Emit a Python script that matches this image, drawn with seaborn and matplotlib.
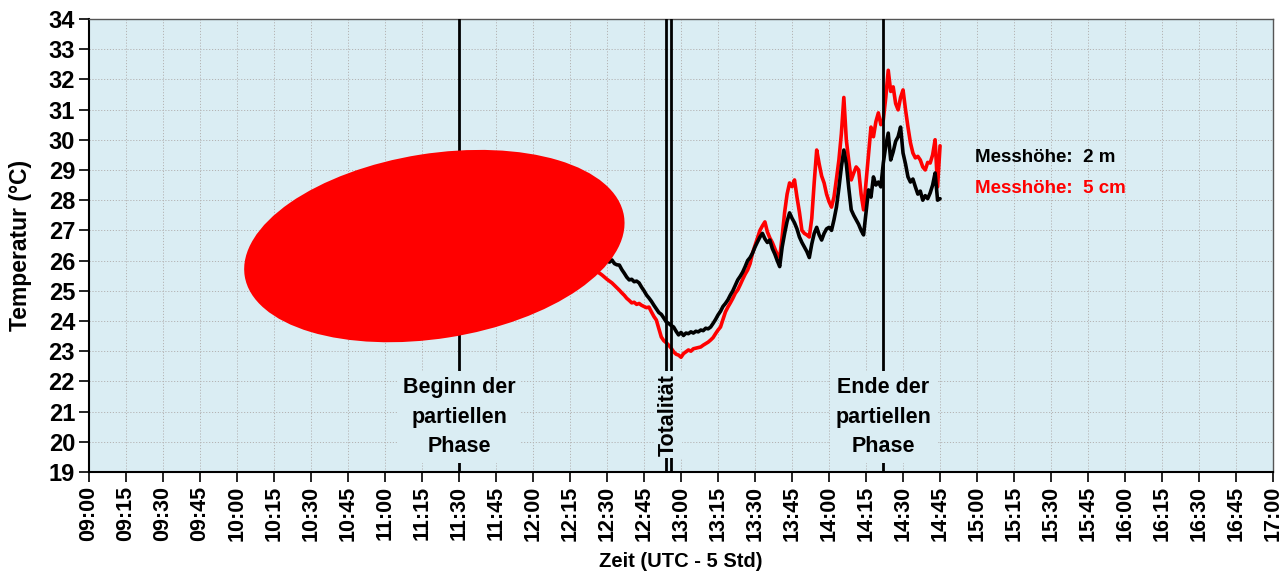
#!/usr/bin/env python3
"""
Temperaturverlauf während der Sonnenfinsternis – zwei Messhöhen.
"""
import numpy as np
import pandas as pd
import matplotlib
matplotlib.use("Agg")
import matplotlib.pyplot as plt
from matplotlib.patches import Ellipse
import seaborn as sns

# Zeitachse: Minuten seit Mitternacht (1-Minuten-Werte, 12:20 bis 14:45)
START_MIN = 12 * 60 + 20
N_POINTS = 146

# Messhöhe 2 m
temp_2m = [
    26.30, 26.25, 26.32, 26.22, 26.18, 26.24, 26.12, 26.15, 26.05, 26.10,
    25.98, 25.95, 26.02, 25.90, 25.86, 25.85, 25.70, 25.58, 25.45, 25.36,
    25.38, 25.30, 25.32, 25.26, 25.12, 25.00, 24.86, 24.76, 24.65, 24.52,
    24.40, 24.28, 24.22, 24.10, 23.97, 23.92, 23.85, 23.80, 23.66, 23.54,
    23.62, 23.52, 23.60, 23.58, 23.64, 23.60, 23.66, 23.64, 23.70, 23.68,
    23.76, 23.74, 23.80, 23.92, 24.05, 24.20, 24.32, 24.48, 24.58, 24.70,
    24.86, 25.00, 25.18, 25.36, 25.48, 25.62, 25.80, 26.00, 26.10, 26.25,
    26.45, 26.62, 26.78, 26.90, 26.72, 26.60, 26.68, 26.40, 26.22, 26.00,
    25.80, 26.45, 26.90, 27.30, 27.58, 27.40, 27.25, 27.05, 26.78, 26.60,
    26.45, 26.30, 26.10, 26.55, 26.90, 27.10, 26.85, 26.68, 26.90, 27.05,
    27.10, 27.00, 27.35, 27.77, 28.40, 29.10, 29.66, 29.20, 28.40, 27.68,
    27.50, 27.35, 27.20, 27.00, 26.85, 27.60, 28.34, 28.10, 28.77, 28.50,
    28.60, 28.44, 29.23, 29.80, 30.22, 29.33, 29.60, 29.95, 30.10, 30.42,
    29.56, 29.20, 28.77, 28.60, 28.70, 28.44, 28.20, 28.30, 28.00, 28.15,
    28.05, 28.24, 28.50, 28.90, 28.00, 28.05,
]

# Messhöhe 5 cm
temp_5cm = [
    26.00, 25.92, 25.95, 25.82, 25.75, 25.70, 25.62, 25.58, 25.52, 25.45,
    25.38, 25.32, 25.26, 25.18, 25.10, 25.02, 24.93, 24.85, 24.75, 24.68,
    24.60, 24.62, 24.55, 24.58, 24.52, 24.48, 24.44, 24.46, 24.30, 24.15,
    24.03, 23.75, 23.47, 23.35, 23.28, 23.20, 23.10, 22.98, 22.90, 22.87,
    22.80, 22.92, 22.98, 23.04, 23.00, 23.08, 23.10, 23.12, 23.14, 23.20,
    23.25, 23.30, 23.37, 23.45, 23.58, 23.70, 23.80, 24.05, 24.30, 24.46,
    24.60, 24.75, 24.92, 25.03, 25.20, 25.38, 25.55, 25.69, 25.90, 26.25,
    26.50, 26.75, 27.00, 27.15, 27.28, 26.95, 26.75, 26.60, 26.40, 26.20,
    26.10, 26.80, 27.60, 28.20, 28.57, 28.45, 28.67, 28.10, 27.60, 27.00,
    26.90, 26.85, 26.78, 27.40, 28.60, 29.66, 29.20, 28.80, 28.57, 28.20,
    27.95, 27.77, 28.10, 28.70, 29.33, 30.20, 31.40, 30.00, 29.30, 28.67,
    28.90, 29.10, 29.00, 28.20, 27.68, 28.60, 29.50, 30.42, 30.10, 30.60,
    30.89, 30.50, 30.66, 31.40, 32.30, 31.60, 31.75, 31.20, 30.99, 31.40,
    31.65, 31.00, 30.42, 29.90, 29.56, 29.40, 29.45, 29.33, 29.10, 29.00,
    29.25, 29.23, 29.50, 30.00, 28.44, 29.80,
]

# Ereignisse (Minuten seit Mitternacht)
event_begin = 11 * 60 + 30
event_total = [12 * 60 + 54, 12 * 60 + 56]
event_end = 14 * 60 + 22

x_min, x_max = 9 * 60, 17 * 60
y_min, y_max = 19, 34

BG = "#DAEDF3"
FONT = ["Liberation Sans", "DejaVu Sans"]

sns.set_style("ticks")
plt.rcParams["font.family"] = FONT
plt.rcParams["font.weight"] = "bold"
plt.rcParams["text.color"] = "black"
plt.rcParams["axes.labelcolor"] = "black"
plt.rcParams["xtick.color"] = "black"
plt.rcParams["ytick.color"] = "black"

df = pd.DataFrame({
    "zeit": START_MIN + np.arange(N_POINTS),
    "2 m": temp_2m,
    "5 cm": temp_5cm,
})
long_df = df.melt(id_vars="zeit", var_name="hoehe", value_name="temp")

fig = plt.figure(figsize=(12.88, 5.74), dpi=100)
ax = fig.add_axes([0.0691, 0.1777, 0.9193, 0.7893])
ax.set_facecolor(BG)

sns.lineplot(data=long_df, x="zeit", y="temp", hue="hoehe",
             hue_order=["5 cm", "2 m"],
             palette={"2 m": "black", "5 cm": "#FF0000"},
             linewidth=2.6, legend=False, ax=ax, zorder=3)

ax.set_xlim(x_min, x_max)
ax.set_ylim(y_min, y_max)

xticks = np.arange(x_min, x_max + 1, 15)
ax.set_xticks(xticks)
ax.set_xticklabels([f"{t // 60:02d}:{t % 60:02d}" for t in xticks],
                   rotation=90, fontsize=15.5, fontweight="bold")
ax.set_yticks(np.arange(y_min, y_max + 1, 1))
ax.set_yticklabels([str(v) for v in range(y_min, y_max + 1)],
                   fontsize=17, fontweight="bold")
ax.tick_params(axis="both", direction="out", length=7, width=1.2, pad=3)

ax.grid(True, color="#B4B4B4", linestyle=(0, (1.2, 1.8)), linewidth=0.7)
ax.set_axisbelow(True)

for side in ["left", "bottom"]:
    ax.spines[side].set_color("black")
    ax.spines[side].set_linewidth(1.5)
for side in ["top", "right"]:
    ax.spines[side].set_color("#555555")
    ax.spines[side].set_linewidth(1.0)

ax.set_xlabel("Zeit (UTC - 5 Std)", fontsize=14.5, fontweight="bold", labelpad=8)
ax.set_ylabel("Temperatur (°C)", fontsize=16.5, fontweight="bold", labelpad=12)

# Ereignislinien
for xv in [event_begin] + event_total + [event_end]:
    ax.axvline(xv, color="black", linewidth=2.0, zorder=4)

label_box = dict(facecolor=BG, edgecolor="none", pad=4)
ax.text(event_begin, 20.82, "Beginn der\npartiellen\nPhase", ha="center", va="center",
        fontsize=15.5, fontweight="bold", linespacing=1.55, bbox=label_box, zorder=5)
ax.text(event_end, 20.82, "Ende der\npartiellen\nPhase", ha="center", va="center",
        fontsize=15.5, fontweight="bold", linespacing=1.55, bbox=label_box, zorder=5)
ax.text(sum(event_total) / 2, 20.9, "Totalität", ha="center", va="center",
        rotation=90, fontsize=15.5, fontweight="bold",
        bbox=dict(facecolor=BG, edgecolor="none", pad=2), zorder=5)

# Legende als Text
ax.text(14 * 60 + 59, 29.40, "Messhöhe:  2 m", color="black", fontsize=13.5,
        fontweight="bold", ha="left", va="center", zorder=5)
ax.text(14 * 60 + 59, 28.37, "Messhöhe:  5 cm", color="#FF0000", fontsize=13.5,
        fontweight="bold", ha="left", va="center", zorder=5)

# Rote Ellipse (in Zoll gezeichnet, damit die Form nicht verzerrt wird)
cx, cy = ax.transData.transform((11 * 60 + 20, 26.48)) / fig.dpi
blob = Ellipse((cx, cy), 3.84, 1.85, angle=9, facecolor="#FF0000",
               edgecolor="none", transform=fig.dpi_scale_trans, zorder=6)
ax.add_patch(blob)

fig.savefig("out.png", dpi=100)
